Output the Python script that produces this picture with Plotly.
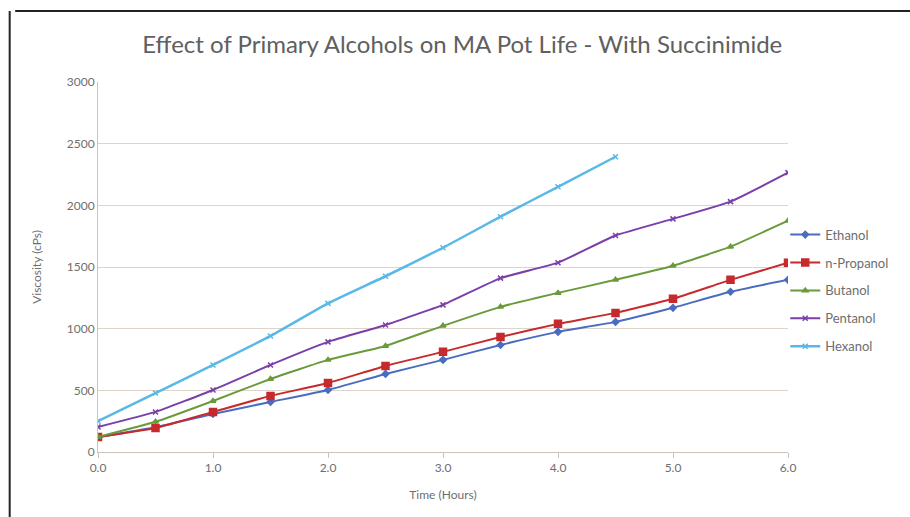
import plotly.graph_objects as go

# Viscosity build-up over time for each primary alcohol
time_h = [0.0, 0.5, 1.0, 1.5, 2.0, 2.5, 3.0, 3.5, 4.0, 4.5, 5.0, 5.5, 6.0]
time_hex = [0.0, 0.5, 1.0, 1.5, 2.0, 2.5, 3.0, 3.5, 4.0, 4.5]

ethanol = [120, 200, 308, 406, 503, 633, 747, 868, 974, 1055, 1169, 1299, 1396]
n_propanol = [122, 195, 325, 455, 560, 698, 812, 933, 1039, 1128, 1242, 1396, 1534]
butanol = [122, 245, 414, 592, 747, 860, 1023, 1177, 1290, 1396, 1510, 1665, 1875]
pentanol = [203, 325, 503, 706, 893, 1030, 1193, 1410, 1535, 1755, 1890, 2030, 2265]
hexanol = [250, 478, 706, 941, 1205, 1425, 1656, 1908, 2150, 2394]

x_ticks = [0, 1, 2, 3, 4, 5, 6]
x_tick_labels = ["0.0", "1.0", "2.0", "3.0", "4.0", "5.0", "6.0"]
y_ticks = [0, 500, 1000, 1500, 2000, 2500, 3000]

series = [
    ("Ethanol", time_h, ethanol, "#4a6cc0", "diamond", 5, 2),
    ("n-Propanol", time_h, n_propanol, "#c62a2c", "square", 7, 2),
    ("Butanol", time_h, butanol, "#6a9a3a", "triangle-up", 5, 2),
    ("Pentanol", time_h, pentanol, "#7a3fa8", "x-thin-open", 5, 2),
    ("Hexanol", time_hex, hexanol, "#5ab8e6", "x-thin-open", 5, 2.5),
]

FONT = "Lato"
GREY = "#6e6e6e"

fig = go.Figure()
for name, xs, ys, color, symbol, msize, lw in series:
    fig.add_trace(go.Scatter(
        x=xs, y=ys, name=name, mode="lines+markers", legendgroup=name,
        line=dict(color=color, width=lw, shape="spline", smoothing=0.4),
        marker=dict(symbol=symbol, size=msize, color=color,
                    line=dict(color=color, width=1.5)),
    ))

fig.update_layout(
    width=910, height=517,
    margin=dict(l=98, r=122, t=82, b=65, autoexpand=False),
    paper_bgcolor="white", plot_bgcolor="white",
    font=dict(family=FONT, color=GREY, size=12),
    title=dict(text="Effect of Primary Alcohols on MA Pot Life - With Succinimide",
               x=0.508, xanchor="center", y=0.913, yanchor="middle",
               font=dict(family=FONT, size=24, color="#606060")),
    legend=dict(x=0.996, xanchor="left", y=0.628, yanchor="top",
                tracegroupgap=8, font=dict(family=FONT, size=13, color=GREY),
                itemwidth=30, bgcolor="rgba(0,0,0,0)"),
    showlegend=True,
)

fig.update_xaxes(
    range=[0, 6], tickvals=x_ticks, ticktext=x_tick_labels,
    showgrid=False, zeroline=False,
    showline=True, linecolor="#cdc3bb", linewidth=1,
    ticks="outside", ticklen=5, tickcolor="#cdc3bb",
    tickfont=dict(size=12, color=GREY),
    title=dict(text="Time (Hours)", font=dict(size=12, color=GREY), standoff=16),
)
fig.update_yaxes(
    range=[0, 3000], tickvals=y_ticks,
    showgrid=True, gridcolor="#ddd4cc", gridwidth=1, zeroline=False,
    showline=True, linecolor="#cdc3bb", linewidth=1,
    ticks="", tickfont=dict(size=12, color=GREY),
    title=dict(text="Viscosity (cPs)", font=dict(size=12, color=GREY), standoff=22),
)

# frame edges along the top and left of the chart area
fig.add_shape(type="line", xref="paper", yref="paper",
              x0=-0.12, x1=1.2, y0=1.192, y1=1.192,
              line=dict(color="#222222", width=2))
fig.add_shape(type="line", xref="paper", yref="paper",
              x0=-0.128, x1=-0.128, y0=1.192, y1=-0.2,
              line=dict(color="#222222", width=2))

fig.write_html("out.html")
